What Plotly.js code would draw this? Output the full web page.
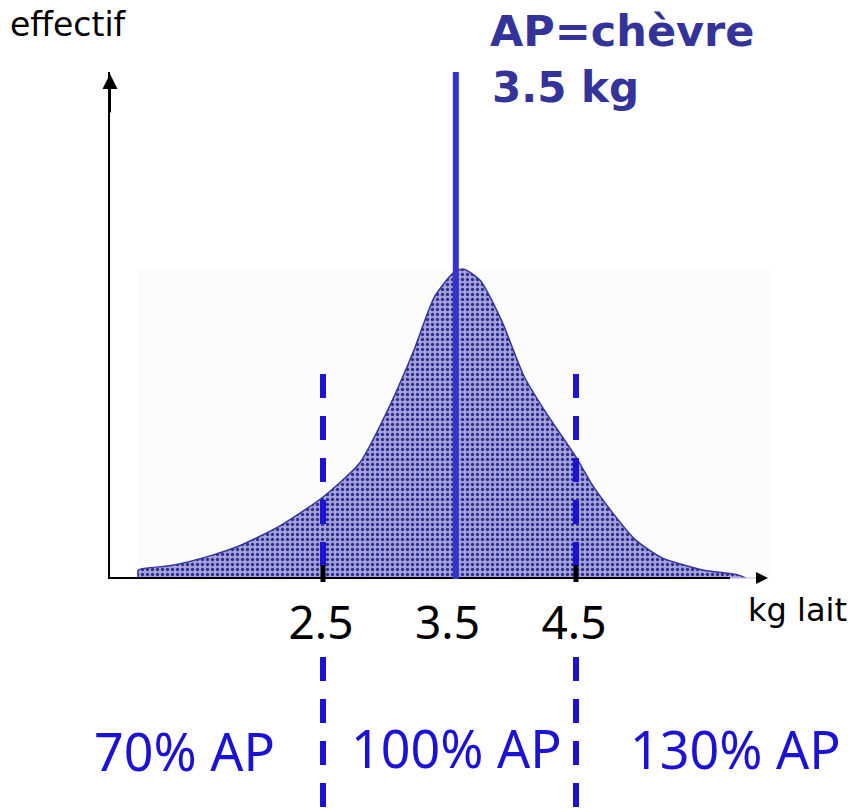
<!DOCTYPE html>
<html>
<head>
<meta charset="utf-8">
<script src="https://cdn.plot.ly/plotly-3.0.1.min.js"></script>
<style>html,body{margin:0;padding:0;background:#fff;}#chart{width:853px;height:808px;}</style>
</head>
<body>
<div id="chart"></div>
<script>
// ---- data ----
const kgLait   = [1.04, 1.04, 1.30, 1.62, 1.84, 2.15, 2.49, 2.79, 3.00, 3.21, 3.38, 3.53, 3.61, 3.74, 3.91, 4.09, 4.26, 4.50, 4.62, 4.79, 4.97, 5.18, 5.50, 5.78, 5.84];
const effectif = [0,    2.6,  4.0,  7.3,  10.4, 16.6, 25.8, 37.1, 53.2, 72.6, 90.6, 98.4, 99.7, 96.1, 83.2, 65.0, 53.5, 39.0, 30.6, 21.0, 12.3, 6.5,  2.6,  1.0,  0];
const tickVals = [2.5, 3.5, 4.5];
const tickText = ['2.5', '3.5', '4.5'];
const seuils   = [2.5, 4.5];           // dashed limits
const apLine   = 3.55;                 // AP line as drawn
const titleLines = ['AP=chèvre', '3.5 kg'];
const zoneLabels = ['70% AP', '100% AP', '130% AP'];
const axisLabels = ['effectif', 'kg lait'];

// ---- layout helpers (pixel -> paper) ----
const W = 853, H = 808, PL = 110, PR = 775, PT = 72, PB = 578;
const pX = px => (px - PL) / (PR - PL);
const pY = py => (PB - py) / (PB - PT);

const blue = '#1b12d4';
const navy = '#333399';

const trace = {
  x: kgLait, y: effectif, type: 'scatter', mode: 'lines',
  line: {color: '#35359a', width: 1.5, shape: 'spline', smoothing: 0.6},
  fill: 'tozeroy',
  fillpattern: {shape: '.', size: 5, solidity: 0.35, fgcolor: '#2e2e92', bgcolor: '#a4a4da'},
  hoverinfo: 'skip', showlegend: false
};

const shapes = [
  // faint background panel
  {type: 'rect', xref: 'paper', yref: 'paper', x0: pX(138), x1: pX(770), y0: 0, y1: pY(267),
   fillcolor: '#fcfcfd', line: {width: 0}, layer: 'below'},
  // x axis line
  {type: 'line', xref: 'paper', yref: 'paper', x0: pX(108), x1: pX(730), y0: 0, y1: 0,
   line: {color: '#000', width: 2}},
  {type: 'line', xref: 'paper', yref: 'paper', x0: pX(730), x1: pX(762), y0: 0, y1: 0,
   line: {color: '#b8b8e0', width: 1}}
];
seuils.forEach(s => {
  shapes.push({type: 'line', xref: 'x', yref: 'paper', x0: s, x1: s, y0: pY(374), y1: pY(566),
    line: {color: blue, width: 6, dash: '24px,18px'}});
  shapes.push({type: 'line', xref: 'x', yref: 'paper', x0: s, x1: s, y0: pY(657), y1: pY(808),
    line: {color: blue, width: 6, dash: '24px,18px'}});
  shapes.push({type: 'line', xref: 'x', yref: 'paper', x0: s, x1: s, y0: pY(565), y1: pY(582),
    line: {color: '#000', width: 5}});
});
shapes.push({type: 'line', xref: 'x', yref: 'paper', x0: apLine, x1: apLine, y0: 1, y1: pY(579),
  line: {color: '#3434c8', width: 6}});

const annotations = [
  // axis arrows
  {xref: 'paper', yref: 'paper', x: 0, y: pY(74), ax: 0, ay: 40, text: '', showarrow: true,
   arrowhead: 2, arrowsize: 1.5, arrowwidth: 2, arrowcolor: '#000'},
  {xref: 'paper', yref: 'paper', x: pX(768), y: 0, ax: -6, ay: 0, text: '', showarrow: true,
   arrowhead: 2, arrowsize: 1.2, arrowwidth: 2, arrowcolor: '#000'},
  // axis titles
  {xref: 'paper', yref: 'paper', x: pX(8), y: pY(24), xanchor: 'left', yanchor: 'middle',
   text: axisLabels[0], showarrow: false, font: {family: 'DejaVu Sans', size: 33, color: '#000'}},
  {xref: 'paper', yref: 'paper', x: pX(746), y: pY(610), xanchor: 'left', yanchor: 'middle',
   text: axisLabels[1], showarrow: false, font: {family: 'DejaVu Sans', size: 32, color: '#000'}},
  // AP title
  {xref: 'paper', yref: 'paper', x: pX(488), y: pY(31), xanchor: 'left', yanchor: 'middle',
   text: '<b>' + titleLines[0] + '</b>', showarrow: false, font: {family: 'DejaVu Sans', size: 43, color: navy}},
  {xref: 'paper', yref: 'paper', x: pX(490), y: pY(87), xanchor: 'left', yanchor: 'middle',
   text: '<b>' + titleLines[1] + '</b>', showarrow: false, font: {family: 'DejaVu Sans', size: 42, color: navy}}
];
const zoneX = [184, 456.5, 735], zoneY = [750, 747, 748];
zoneLabels.forEach((t, i) => annotations.push({
  xref: 'paper', yref: 'paper', x: pX(zoneX[i]), y: pY(zoneY[i]), xanchor: 'center', yanchor: 'middle',
  text: t, showarrow: false, font: {family: 'Noto Sans', size: 52, color: blue}
}));

const layout = {
  width: W, height: H,
  margin: {l: PL, r: W - PR, t: PT, b: H - PB, pad: 0},
  paper_bgcolor: '#fff', plot_bgcolor: 'rgba(0,0,0,0)',
  xaxis: {range: [0.8162, 6.0731], tickvals: tickVals, ticktext: tickText, ticks: '',
    showgrid: false, zeroline: false, showline: false, ticklabelstandoff: 14, ticklabelshift: -2,
    tickfont: {family: 'Noto Sans', size: 46, color: '#000'}, fixedrange: true},
  yaxis: {range: [0, 163.23], showticklabels: false, ticks: '', showgrid: false, zeroline: false,
    showline: true, linecolor: '#000', linewidth: 2, fixedrange: true},
  shapes: shapes,
  annotations: annotations,
  showlegend: false
};

Plotly.newPlot('chart', [trace], layout, {displayModeBar: false, staticPlot: true});
</script>
</body>
</html>
